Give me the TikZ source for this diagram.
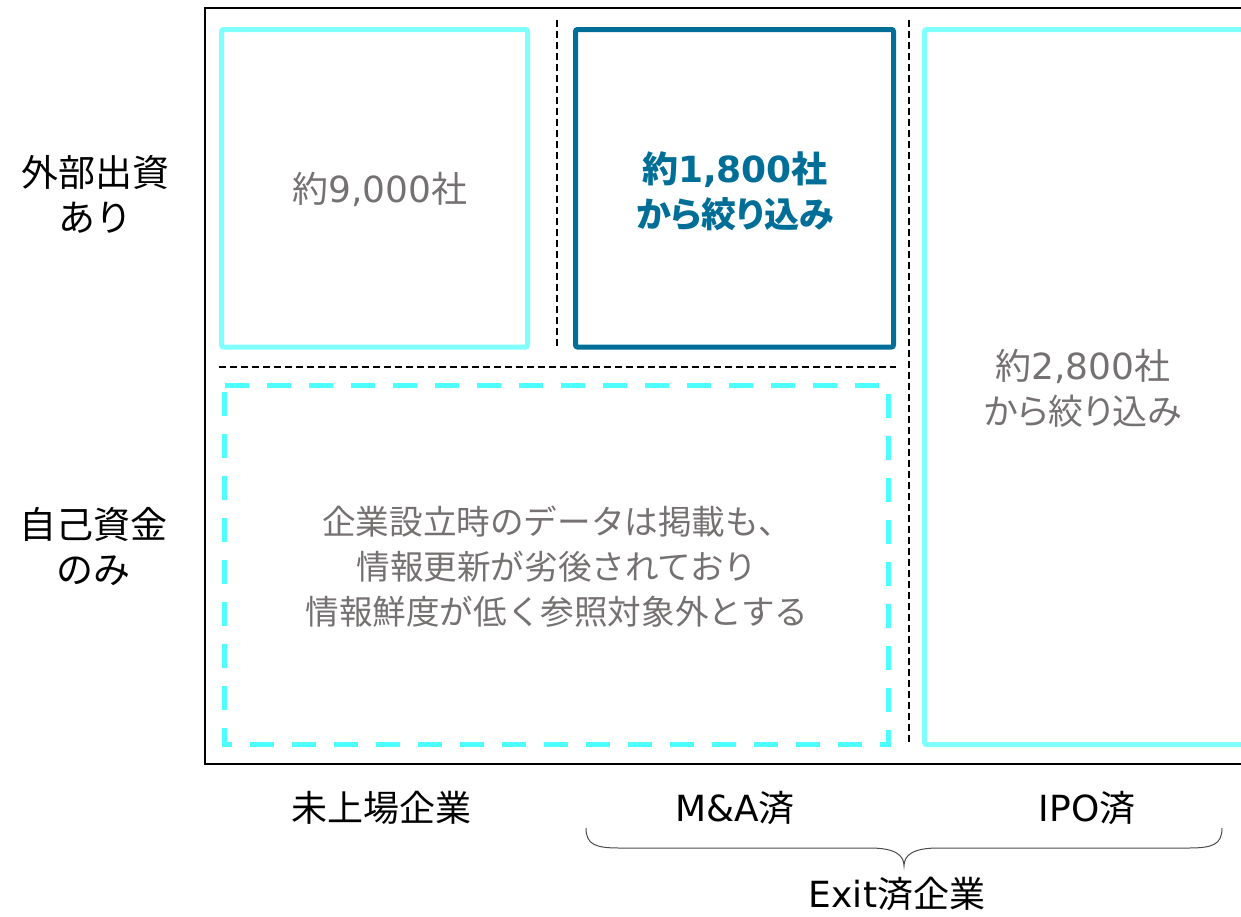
\documentclass[tikz,border=0pt]{standalone}
\usepackage{fontspec}
\setmainfont{Noto Sans CJK JP}
\newfontfamily\latf{DejaVu Sans}
\newfontfamily\propf[RawFeature=+palt]{Noto Sans CJK JP}
\newcommand{\dgt}[1]{{\latf\fontsize{36}{45}\selectfont #1}}
\newcommand{\kanaline}[1]{{\propf\fontsize{35}{45}\selectfont #1}}
\usetikzlibrary{calc}
\definecolor{lcyan}{HTML}{80FFFF}
\definecolor{dcyan}{HTML}{4DFFFF}
\definecolor{teal}{HTML}{006E96}
\definecolor{gtext}{HTML}{757171}
\tikzset{
  frame/.style={line width=2.5pt,black},
  solidbox/.style={line width=5pt,rounded corners=2pt},
  dashbox/.style={line width=5pt,dcyan,dash pattern=on 24pt off 18pt},
  sep/.style={line width=2pt,black,dash pattern=on 6.5pt off 4.5pt},
  sidelbl/.style={font=\fontsize{37}{45}\selectfont,align=center,text=black,inner sep=0pt},
  lbl/.style={font=\fontsize{36}{45}\selectfont,align=center,text=black,inner sep=0pt},
  boxtxt/.style={font=\fontsize{36}{45}\selectfont,align=center,text=gtext,inner sep=0pt},
  notetxt/.style={font=\fontsize{33.6}{45}\selectfont,align=center,text=gtext,inner sep=0pt},
  boldtxt/.style={font=\fontsize{36}{45}\selectfont\bfseries,align=center,text=teal,inner sep=0pt},
}
\begin{document}
\begin{tikzpicture}[x=1pt,y=-1pt]
\useasboundingbox (0,0) rectangle (1241,916);
\clip (0,0) rectangle (1241,916);
% outer frame (open on the right)
\draw[frame] (1250,8) -- (205,8) -- (205,764) -- (1250,764);
% boxes
\draw[solidbox,lcyan] (221.5,29.5) rectangle (527.5,347);
\draw[solidbox,teal] (575.5,29.5) rectangle (893.5,347);
\draw[solidbox,lcyan] (924.5,29.5) rectangle (1260,744.5);
\draw[dashbox] (224.5,385.5) -- (888.5,385.5) -- (888.5,744.5) -- (224.5,744.5) -- cycle;
% separators
\draw[sep] (557,20) -- (557,350);
\draw[sep] (909,20) -- (909,745);
\draw[sep] (219,367) -- (896,367);
% left labels
\node[sidelbl] (ext) at (95,194) {外部出資\\あり};
\node[sidelbl] (own) at (93,547) {自己資金\\のみ};
% box texts
\node[boxtxt] (n9000) at (380,189) {約\dgt{9,000}社};
\node[boldtxt] (n1800) at (735,191) {約\dgt{1,800}社\\\kanaline{から絞り込み}};
\node[boxtxt] (n2800) at (1083,388) {約\dgt{2,800}社\\\kanaline{から絞り込み}};
\node[notetxt] (note) at (557,567) {企業設立時のデータは掲載も、\\情報更新が劣後されており\\情報鮮度が低く参照対象外とする};
% bottom labels
\node[lbl] (unl) at (381,808) {未上場企業};
\node[lbl] (ma) at (735,808) {\dgt{M\&A}済};
\node[lbl] (ipo) at (1087,808) {\dgt{IPO}済};
\node[lbl] (exit) at (897,894) {\dgt{Exit}済企業};
% brace
\coordinate (bl) at (586,828);
\coordinate (br) at (1222,828);
\coordinate (bt) at (904,866);
\draw[line width=1pt,black!70] (bl) .. controls (586,845) and (596,848) .. (620,848) -- (870,848) .. controls (895,848) and (904,855) .. (bt)
  .. controls (904,855) and (913,848) .. (938,848) -- (1188,848) .. controls (1212,848) and (1222,845) .. (br);
\end{tikzpicture}
\end{document}
